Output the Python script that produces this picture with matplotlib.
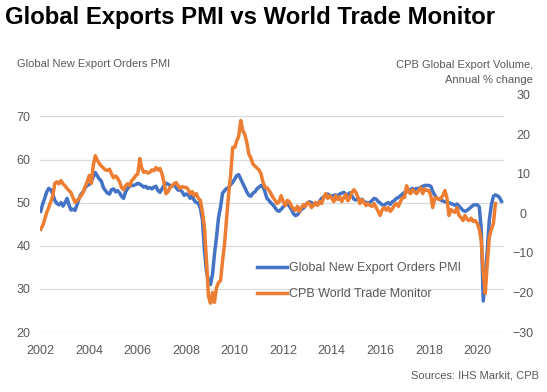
import numpy as np
import pandas as pd
import matplotlib.pyplot as plt
import matplotlib.dates as mdates
from matplotlib.lines import Line2D

# Global new export orders PMI, monthly from Jan 2002 (left axis)
pmi = [
    48.0, 49.8, 51.0, 52.5, 53.3, 53.0, 52.0, 50.5, 49.8, 49.5, 50.0, 49.2,  # 2002
    50.0, 51.0, 49.5, 48.3, 48.5, 48.2, 49.5, 51.0, 52.0, 52.5, 53.5, 54.0,  # 2003
    54.2, 54.8, 56.0, 57.0, 56.2, 55.5, 55.0, 53.5, 52.8, 52.2, 52.0, 53.0,  # 2004
    53.2, 52.5, 52.8, 52.3, 51.5, 51.0, 52.5, 53.3, 53.8, 54.0, 54.0, 54.2,  # 2005
    54.5, 54.3, 54.0, 53.6, 53.8, 53.3, 53.5, 53.2, 53.6, 53.8, 52.8, 52.4,  # 2006
    53.2, 54.0, 54.5, 54.3, 54.0, 53.8, 54.2, 53.5, 52.9, 53.0, 52.5, 51.7,  # 2007
    52.0, 51.8, 51.0, 51.5, 50.5, 50.0, 49.9, 48.7, 46.0, 39.0, 34.0, 32.0,  # 2008
    31.0, 33.5, 38.0, 42.0, 46.5, 49.0, 52.2, 52.8, 53.3, 53.5, 54.2, 54.7,  # 2009
    55.5, 56.3, 56.5, 55.5, 54.5, 53.5, 52.5, 51.7, 51.5, 52.2, 52.5, 53.2,  # 2010
    53.6, 54.0, 53.8, 52.5, 51.0, 50.5, 49.9, 49.5, 48.8, 48.2, 48.0, 48.5,  # 2011
    49.0, 49.5, 50.0, 49.2, 48.5, 47.5, 47.0, 47.2, 47.8, 48.5, 48.7, 49.5,  # 2012
    49.9, 50.2, 50.0, 49.5, 49.8, 49.6, 50.3, 51.0, 51.3, 51.7, 52.0, 51.7,  # 2013
    51.5, 51.7, 51.8, 51.5, 52.0, 52.2, 52.4, 52.0, 51.8, 52.3, 51.6, 50.8,  # 2014
    50.6, 51.0, 50.5, 50.8, 50.2, 50.1, 49.8, 50.1, 50.5, 51.0, 50.8, 50.3,  # 2015
    49.9, 49.5, 49.4, 49.8, 50.0, 49.6, 50.2, 50.5, 51.0, 51.2, 51.6, 52.0,  # 2016
    52.4, 52.5, 52.8, 53.0, 53.3, 53.0, 53.3, 53.2, 53.6, 53.8, 54.0, 54.0,  # 2017
    54.0, 53.8, 52.6, 51.8, 51.0, 50.9, 50.6, 50.4, 50.2, 50.1, 50.0, 49.8,  # 2018
    49.6, 49.4, 49.7, 49.2, 48.7, 48.2, 48.0, 48.2, 48.6, 49.0, 49.4, 49.5,  # 2019
    49.5, 49.0, 44.0, 27.2, 33.0, 39.0, 46.0, 49.5, 51.5, 51.8, 51.6, 51.2,  # 2020
    50.3,                                                                    # 2021
]

# CPB world trade monitor, export volume y/y %, monthly from Jan 2002 (right axis)
cpb = [
    -4.0, -3.0, -1.5, 0.3, 1.5, 3.0, 4.5, 7.6, 8.0, 7.5, 8.3, 7.5,           # 2002
    7.0, 6.3, 5.8, 5.3, 4.0, 2.8, 3.2, 3.8, 4.5, 5.3, 6.8, 8.0,              # 2003
    9.6, 7.6, 12.1, 14.6, 13.5, 12.6, 12.0, 11.5, 11.0, 10.9, 11.2, 10.0,    # 2004
    9.0, 9.5, 9.0, 8.0, 6.6, 6.0, 7.0, 7.5, 7.0, 8.3, 8.8, 9.6,              # 2005
    10.0, 13.9, 11.5, 10.4, 10.6, 10.2, 10.4, 11.0, 10.8, 11.6, 11.0, 11.4,  # 2006
    10.0, 7.8, 5.0, 5.5, 6.5, 7.0, 7.5, 7.8, 7.0, 6.3, 6.8, 6.6,             # 2007
    6.6, 6.0, 5.0, 5.5, 4.5, 5.0, 3.8, 3.3, 0.3, -3.5, -12.0, -21.0,         # 2008
    -22.7, -20.0, -22.5, -18.7, -17.5, -17.0, -12.0, -7.6, -1.0, 5.0, 10.0, 16.7,  # 2009
    16.7, 18.4, 19.5, 23.5, 21.0, 20.0, 18.0, 15.0, 14.0, 12.5, 12.0, 11.5,  # 2010
    11.0, 10.0, 8.0, 6.6, 6.5, 5.8, 5.0, 4.0, 3.3, 2.5, 3.0, 4.5,            # 2011
    3.0, 2.0, 3.3, 3.0, 2.0, 1.2, 0.8, 1.8, 0.5, 1.5, 2.2, 1.8,              # 2012
    2.8, 2.5, 1.5, 2.0, 2.8, 2.0, 3.0, 2.5, 4.0, 5.0, 3.8, 4.5,              # 2013
    3.8, 3.0, 4.5, 3.5, 4.2, 3.0, 4.0, 4.8, 3.2, 4.0, 5.3, 6.0,              # 2014
    5.3, 4.0, 2.5, 3.5, 2.8, 2.0, 2.5, 2.0, 1.8, 2.5, 1.5, 0.5,              # 2015
    -0.5, 1.0, 1.5, 0.8, 1.5, 0.5, 1.2, 2.0, 2.5, 1.8, 3.0, 4.0,             # 2016
    4.0, 7.0, 5.5, 5.0, 6.0, 5.5, 5.0, 5.8, 6.5, 5.0, 6.2, 5.8,              # 2017
    5.8, 4.5, 1.5, 3.8, 4.0, 3.5, 3.8, 4.5, 5.8, 4.0, -0.5, 1.0,             # 2018
    0.5, 0.3, 1.5, -0.5, -1.0, -1.8, -0.5, -1.5, -1.8, -1.2, -2.0, -1.8,     # 2019
    -2.5, -4.0, -6.8, -15.0, -20.2, -12.5, -6.0, -4.0, -2.5, 2.5,            # 2020
]

pmi_dates = pd.date_range('2002-01-01', periods=len(pmi), freq='MS')
cpb_dates = pd.date_range('2002-01-01', periods=len(cpb), freq='MS')

blue = '#4472C4'
orange = '#ED7D31'
grey = '#595959'

plt.rcParams['font.family'] = ['Liberation Sans', 'DejaVu Sans']

fig = plt.figure(figsize=(5.47, 3.92), dpi=100)
ax = fig.add_axes([0.0731, 0.153, 0.848, 0.605])
ax2 = ax.twinx()

ax.plot(pmi_dates, pmi, color=blue, lw=2.5, solid_joinstyle='round')
ax2.plot(cpb_dates, cpb, color=orange, lw=2.5, solid_joinstyle='round')

ax.set_ylim(20, 75)
ax.set_yticks(np.arange(20, 71, 10))
ax2.set_ylim(-30, 30)
ax2.set_yticks(np.arange(-30, 31, 10))
ax.set_xlim(pd.Timestamp('2001-12-20'), pd.Timestamp('2021-02-05'))
ax.xaxis.set_major_locator(mdates.YearLocator(2))
ax.xaxis.set_major_formatter(mdates.DateFormatter('%Y'))

ax.grid(axis='y', color='#D9D9D9', lw=0.9)
ax.set_axisbelow(True)
for a in (ax, ax2):
    for s in a.spines.values():
        s.set_visible(False)
    a.tick_params(length=0, labelsize=9, labelcolor=grey)
ax.tick_params(axis='y', pad=7)
ax.tick_params(axis='x', pad=9)
ax2.tick_params(axis='y', pad=14)
for lbl in ax2.get_yticklabels():
    lbl.set_horizontalalignment('center')

fig.text(0.009, 0.955, 'Global Exports PMI vs World Trade Monitor', fontsize=17.2,
         fontweight='bold', color='black', va='center')
fig.text(0.031, 0.838, 'Global New Export Orders PMI', fontsize=8, color=grey, va='center')
fig.text(0.975, 0.816, 'CPB Global Export Volume,\nAnnual % change', fontsize=8,
         color=grey, ha='right', va='center', linespacing=1.6)
fig.text(0.985, 0.043, 'Sources: IHS Markit, CPB', fontsize=8, color=grey,
         ha='right', va='center')

handles = [Line2D([], [], color=blue, lw=2.5), Line2D([], [], color=orange, lw=2.5)]
ax2.legend(handles, ['Global New Export Orders PMI', 'CPB World Trade Monitor'],
           loc='upper left', bbox_to_anchor=(0.468, 0.295), frameon=False,
           fontsize=9, labelcolor=grey, handlelength=2.4, handletextpad=0.15,
           labelspacing=1.15, borderpad=0, borderaxespad=0)

fig.savefig('out.png', dpi=100)
